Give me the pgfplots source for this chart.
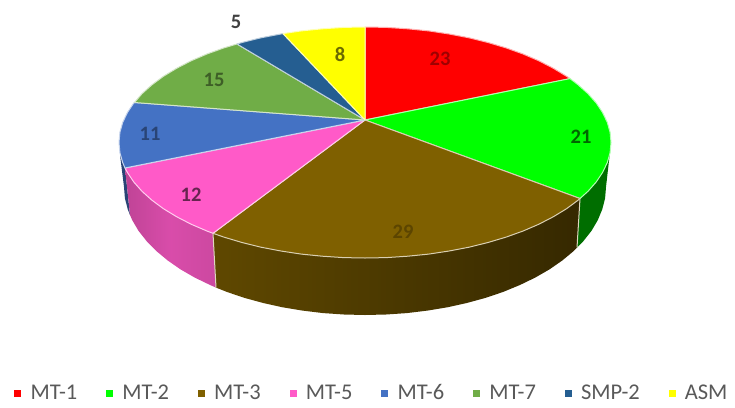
\documentclass[border=0pt]{standalone}
\usepackage{fontspec}
\setmainfont{Carlito}
\usepackage{pgfplots}
\pgfplotsset{compat=1.18}
\definecolor{cMTone}{HTML}{FF0000}
\definecolor{cMTtwo}{HTML}{00FF00}
\definecolor{cMTthree}{HTML}{7F6000}
\definecolor{cMTfive}{HTML}{FF5AC8}
\definecolor{cMTsix}{HTML}{4472C4}
\definecolor{cMTseven}{HTML}{70AD47}
\definecolor{cSMP}{HTML}{255E91}
\definecolor{cASM}{HTML}{FFFF00}
\definecolor{legtext}{HTML}{595959}
\tikzset{lab/.style={font=\fontsize{20.5}{20.5}\selectfont\bfseries, inner sep=0pt}}
\begin{document}
\begin{tikzpicture}
\useasboundingbox (0,0) rectangle (735pt,407pt);
\begin{axis}[
  at={(0,0)}, anchor=south west,
  scale only axis, width=735pt, height=407pt,
  xmin=0, xmax=735, ymin=0, ymax=407, y dir=reverse,
  hide axis, clip=false,
  legend columns=-1,
  legend style={draw=none, fill=none, at={(axis cs:372,393)}, anchor=center,
    inner sep=0pt, outer sep=0pt,
    font=\fontsize{22.5}{22.5}\selectfont\color{legtext},
    /tikz/every odd column/.style={column sep=8pt},
    /tikz/every even column/.style={column sep=27pt}},
]
% ---- side walls ----
\addplot[fill=cMTsix!60!black, draw=none, forget plot] coordinates {(120,155)(124,187)(124.9,198.2)(127.7,209.2)(130,215)(125,168)} --cycle;
\addplot[left color=cMTfive!75!black, right color=cMTfive!80!black, middle color=cMTfive!85!black, draw=none, forget plot] coordinates {(125,168)(130,215)(132.2,220.1)(138.5,230.8)(146.6,241.1)(156.3,251)(167.6,260.4)(180.4,269.3)(194.6,277.5)(210.1,285)(216,287.6)(213,233.3)} --cycle;
\addplot[left color=cMTthree!75!black, middle color=cMTthree!46!black, right color=cMTthree!42!black, draw=none, forget plot] coordinates {(216,287.6)(226.8,291.9)(244.5,297.9)(263.2,303)(282.6,307.3)(302.6,310.6)(323.2,313.1)(344,314.5)(365,315)(386,314.5)(406.8,313.1)(427.4,310.6)(447.4,307.3)(466.8,303)(485.5,297.9)(503.2,291.9)(519.9,285)(535.4,277.5)(549.6,269.3)(562.4,260.4)(573.7,251)(577,247.5)(580,198.5)(213,233.3)} --cycle;
\addplot[fill=cMTtwo!43!black, draw=none, forget plot] coordinates {(580,198.5)(577,247.5)(583.4,241.1)(591.5,230.8)(597.8,220.1)(602.3,209.2)(605.1,198.2)(606,187)(608.5,165)(610,152)} --cycle;
\addplot[white!75!cMTthree, line width=1pt, forget plot] coordinates {(213,233.3)(216,287.6)};
\addplot[white!75!cMTthree, line width=1pt, forget plot] coordinates {(580,198.5)(577,247.5)};
% ---- top surface ----
\pgfplotsset{slice/.style={fill=#1, draw=white!70!#1, line width=1pt, line join=round}}
\addplot[slice=cMTone, forget plot] coordinates {(365,120)(365,27)(386.4,27.4)(407.7,28.8)(428.7,30.9)(449.1,34)(469,37.8)(488,42.5)(506.1,47.9)(523.1,54)(538.9,60.8)(553.4,68.3)(566.5,76.25)(570,78.6)} --cycle;
\addplot[slice=cMTtwo, forget plot] coordinates {(365,120)(570,78.6)(578,84.75)(588,93.7)(596.2,103)(602.6,112.6)(607.3,122.4)(610.1,132.4)(611,142.5)(610.1,152.6)(607.3,162.6)(602.6,172.4)(596.2,182)(588,191.3)(580,198.5)} --cycle;
\addplot[slice=cMTthree, forget plot] coordinates {(365,120)(580,198.5)(578,200.25)(566.5,208.75)(553.4,216.7)(538.9,224.2)(523.1,231)(506.1,237.1)(488,242.5)(469,247.2)(449.1,251)(428.7,254.1)(407.7,256.2)(386.4,257.6)(365,258)(343.6,257.6)(322.3,256.2)(301.3,254.1)(280.9,251)(261,247.2)(242,242.5)(223.9,237.1)(213,233.3)} --cycle;
\addplot[slice=cMTfive, forget plot] coordinates {(365,120)(213,233.3)(206.9,231)(191.1,224.2)(176.6,216.7)(163.5,208.75)(152,200.25)(142,191.3)(133.8,182)(127.4,172.4)(125,168)} --cycle;
\addplot[slice=cMTsix, forget plot] coordinates {(365,120)(125,168)(122.7,162.6)(119.9,152.6)(119,142.5)(119.9,132.4)(122.7,122.4)(127.4,112.6)(133.8,103)(134.5,102.5)} --cycle;
\addplot[slice=cMTseven, forget plot] coordinates {(365,120)(134.5,102.5)(142,93.7)(152,84.75)(163.5,76.25)(176.6,68.3)(191.1,60.8)(206.9,54)(223.9,47.9)(237,44)} --cycle;
\addplot[slice=cSMP, forget plot] coordinates {(365,120)(237,44)(242,42.5)(261,37.8)(280.9,34)(283,33.6)} --cycle;
\addplot[slice=cASM, forget plot] coordinates {(365,120)(283,33.6)(301.3,30.9)(322.3,28.8)(343.6,27.4)(365,27)} --cycle;
% ---- value labels ----
\node[lab, text=cMTone!62!black] at (axis cs:440,59) {23};
\node[lab, text=cMTtwo!40!black] at (axis cs:581,137) {21};
\node[lab, text=cMTthree!72!black] at (axis cs:403,232) {29};
\node[lab, text=cMTfive!40!black] at (axis cs:191,195) {12};
\node[lab, text=cMTsix!60!black] at (axis cs:150,134) {11};
\node[lab, text=cMTseven!55!black] at (axis cs:214,80) {15};
\node[lab, text=black!75] at (axis cs:236,22) {5};
\node[lab, text=cASM!42!black] at (axis cs:340,54) {8};
% ---- legend ----
\addlegendimage{only marks, mark=square*, mark size=3pt, color=cMTone}\addlegendentry{MT-1}
\addlegendimage{only marks, mark=square*, mark size=3pt, color=cMTtwo}\addlegendentry{MT-2}
\addlegendimage{only marks, mark=square*, mark size=3pt, color=cMTthree}\addlegendentry{MT-3}
\addlegendimage{only marks, mark=square*, mark size=3pt, color=cMTfive}\addlegendentry{MT-5}
\addlegendimage{only marks, mark=square*, mark size=3pt, color=cMTsix}\addlegendentry{MT-6}
\addlegendimage{only marks, mark=square*, mark size=3pt, color=cMTseven}\addlegendentry{MT-7}
\addlegendimage{only marks, mark=square*, mark size=3pt, color=cSMP}\addlegendentry{SMP-2}
\addlegendimage{only marks, mark=square*, mark size=3pt, color=cASM}\addlegendentry{ASM}
\end{axis}
\end{tikzpicture}
\end{document}
